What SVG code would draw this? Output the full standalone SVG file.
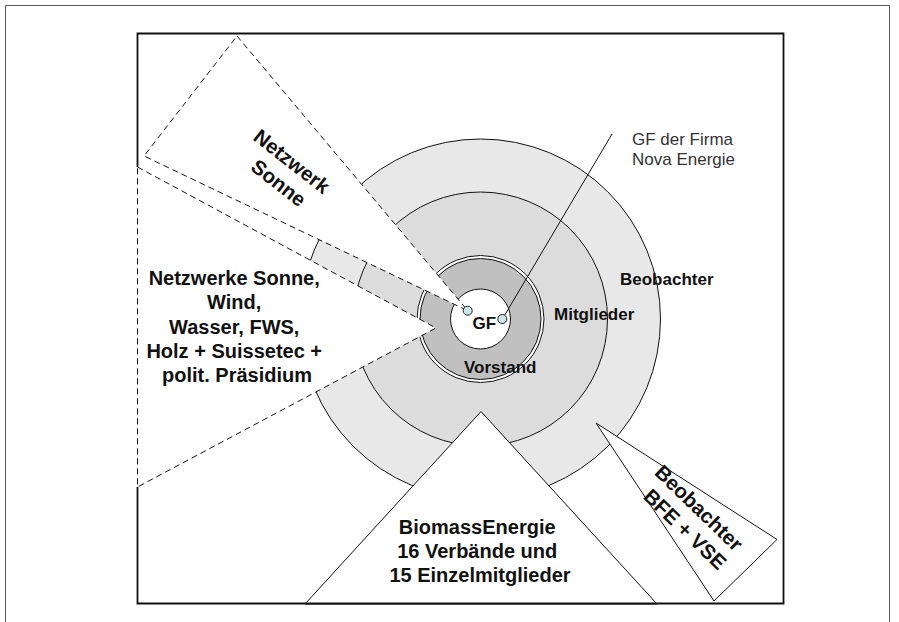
<svg xmlns="http://www.w3.org/2000/svg" width="899" height="622" viewBox="0 0 899 622">
<style>
.page{fill:none;stroke:#555;stroke-width:1}
.frame{fill:none;stroke:#111;stroke-width:1.8}
.ring{stroke:#111;stroke-width:1}
.dash{fill:#fff;stroke:#111;stroke-width:1;stroke-dasharray:6 4}
.tri{fill:#fff;stroke:#111;stroke-width:1}
.dot{fill:#cce8e8;stroke:#222;stroke-width:1}
.conn{fill:none;stroke:#111;stroke-width:1}
text{font-family:"Liberation Sans",Arial,sans-serif;fill:#111}
.big{font-size:20px;font-weight:bold}
.rot{font-size:20.5px;font-weight:bold}
.lbl{font-size:17px;font-weight:bold}
.note{font-size:17px;fill:#333}
</style>
<rect width="899" height="622" fill="#fff"/>
<path class="page" d="M5.5,622 V5.5 H889.5 V622"/>

<g id="ring-beobachter"><circle class="ring" cx="480.5" cy="319" r="180" fill="#e8e8e8"/></g>
<g id="ring-mitglieder"><circle class="ring" cx="480.5" cy="319" r="127" fill="#dcdcdc"/></g>
<g id="ring-vorstand">
<circle class="ring" cx="480.5" cy="319" r="63.5" fill="#fff"/>
<circle class="ring" cx="480.5" cy="319" r="60.5" fill="#c0c0c0"/>
</g>
<g id="gf"><circle class="ring" cx="480.5" cy="319" r="30" fill="#fff"/></g>

<g id="netzwerk-sonne">
<polygon class="dash" points="237,36 467.7,310.7 144,156"/>
</g>
<g id="netzwerke">
<polygon class="dash" points="137.5,167 436,328 137.5,487"/>
</g>
<g id="biomass">
<polygon class="tri" points="305,604 481,411.5 657,604"/>
</g>
<g id="beobachter-bfe">
<polygon class="tri" points="596,423 777,539.5 714,601"/>
</g>

<path class="frame" d="M137.5,167 V33.5 H783.5 V603.5 H137.5 V487"/>

<g id="connectors">
<line class="conn" x1="612" y1="134" x2="504.5" y2="315.5"/>
</g>
<g id="dots">
<circle class="dot" cx="467.7" cy="310.7" r="4.5"/>
<circle class="dot" cx="502.3" cy="319" r="4.5"/>
</g>

<g id="labels">
<text class="note" x="632" y="145">GF der Firma</text>
<text class="note" x="632" y="165">Nova Energie</text>
<text class="lbl" x="620" y="285">Beobachter</text>
<text class="lbl" x="554" y="319.5">Mitglieder</text>
<text class="lbl" x="464" y="372.5">Vorstand</text>
<text class="lbl" x="472.5" y="329">GF</text>
<text class="big" text-anchor="middle">
<tspan x="237" y="285">Netzwerke Sonne,</tspan>
<tspan x="237" y="309">Wind,</tspan>
<tspan x="237" y="333.5">Wasser, FWS,</tspan>
<tspan x="237" y="358">Holz + Suissetec +</tspan>
<tspan x="237" y="382">polit. Präsidium</tspan>
</text>
<text class="big" text-anchor="middle">
<tspan x="480" y="534">BiomassEnergie</tspan>
<tspan x="480" y="558">16 Verbände und</tspan>
<tspan x="480" y="582">15 Einzelmitglieder</tspan>
</text>
<text class="rot" text-anchor="middle" transform="translate(289.7,168.8) rotate(38)">
<tspan x="0" y="0">Netzwerk</tspan>
<tspan x="0" y="25">Sonne</tspan>
</text>
<text class="rot" text-anchor="middle" transform="translate(696,515) rotate(44)">
<tspan x="0" y="0">Beobachter</tspan>
<tspan x="2" y="25">BFE + VSE</tspan>
</text>
</g>
</svg>
